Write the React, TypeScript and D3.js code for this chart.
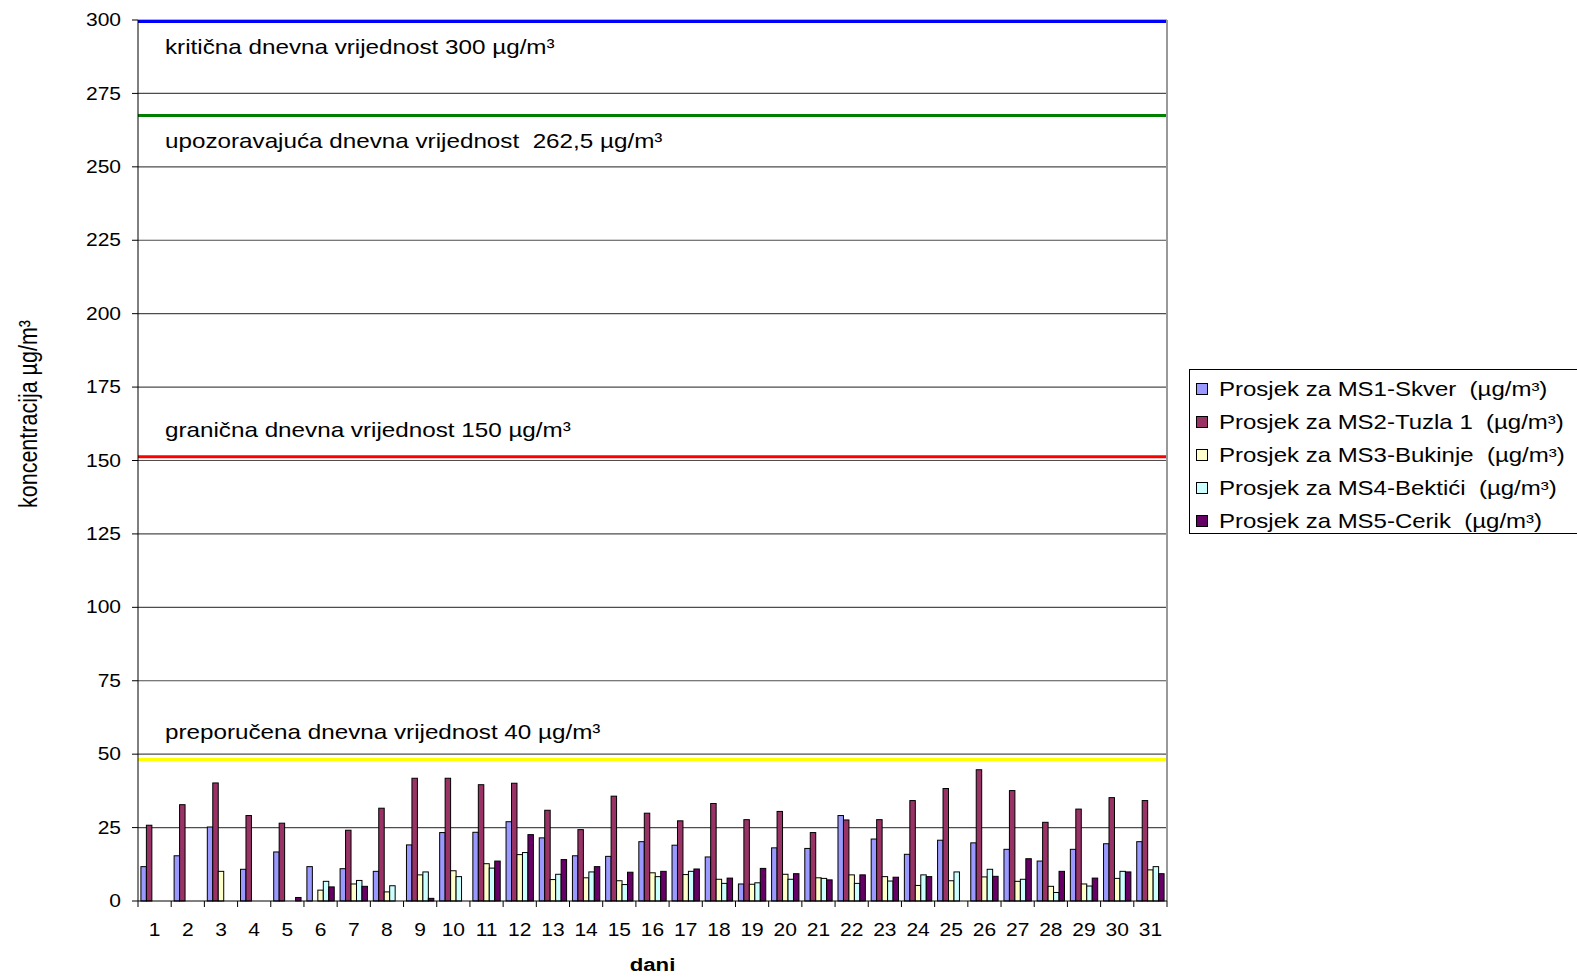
import React from 'react';
import * as d3 from 'd3';

// dnevni prosjeci po mjernim stanicama (µg/m³), null = nema podatka
const days = ['1', '2', '3', '4', '5', '6', '7', '8', '9', '10', '11', '12', '13', '14', '15', '16',
  '17', '18', '19', '20', '21', '22', '23', '24', '25', '26', '27', '28', '29', '30', '31'];

const ms1 = [11.7, 15.4, 25.2, 10.8, 16.7, 11.7, 11.0, 10.1, 19.1, 23.3, 23.4, 27.0, 21.5, 15.4, 15.2, 20.2,
  19.0, 15.0, 5.8, 18.1, 17.9, 29.1, 21.1, 15.9, 20.7, 19.8, 17.6, 13.6, 17.6, 19.5, 20.2];
const ms2 = [25.8, 32.8, 40.2, 29.1, 26.5, null, 24.1, 31.6, 41.8, 41.8, 39.6, 40.1, 30.9, 24.3, 35.7, 29.9,
  27.3, 33.2, 27.7, 30.5, 23.3, 27.6, 27.7, 34.2, 38.3, 44.7, 37.6, 26.8, 31.3, 35.2, 34.2];
const ms3 = [null, null, 10.1, null, null, 3.7, 5.8, 3.1, 8.9, 10.3, 12.7, 15.8, 7.3, 7.9, 6.9, 9.6,
  9.0, 7.4, 5.7, 9.1, 7.9, 8.9, 8.3, 5.3, 6.9, 8.2, 6.7, 5.0, 5.8, 7.7, 10.6];
const ms4 = [null, null, null, null, null, 6.7, 7.0, 5.2, 9.9, 8.3, 11.2, 16.5, 9.1, 9.9, 5.6, 8.3,
  10.1, 6.0, 6.2, 7.4, 7.7, 6.0, 6.8, 8.9, 9.9, 10.8, 7.4, 2.9, 5.1, 10.1, 11.7];
const ms5 = [null, null, null, null, 1.2, 4.8, 5.0, null, 0.9, null, 13.6, 22.6, 14.1, 11.7, 9.8, 10.1,
  10.9, 7.8, 11.1, 9.3, 7.2, 8.9, 8.1, 8.3, null, 8.4, 14.4, 10.1, 7.8, 9.9, 9.3];

const seriesNames = [
  'Prosjek za MS1-Skver  (µg/m³)',
  'Prosjek za MS2-Tuzla 1  (µg/m³)',
  'Prosjek za MS3-Bukinje  (µg/m³)',
  'Prosjek za MS4-Bektići  (µg/m³)',
  'Prosjek za MS5-Cerik  (µg/m³)',
];
const seriesColors = ['#9999FF', '#993366', '#FFFFCC', '#CCFFFF', '#660066'];
const seriesValues = [ms1, ms2, ms3, ms4, ms5];

// granične linije kako su nacrtane na grafikonu
const limitValues = [299.5, 267.5, 151.3, 48.2];
const limitColors = ['#0000FF', '#008000', '#FF0000', '#FFFF00'];
const limitLabels = [
  'kritična dnevna vrijednost 300 µg/m³',
  'upozoravajuća dnevna vrijednost  262,5 µg/m³',
  'granična dnevna vrijednost 150 µg/m³',
  'preporučena dnevna vrijednost 40 µg/m³',
];
const limitLabelBelow = [true, true, false, false];

const yTicks = [0, 25, 50, 75, 100, 125, 150, 175, 200, 225, 250, 275, 300];

const FONT = '"Liberation Sans", Arial, sans-serif';
// original slika je vodoravno razvučena
const SX = 1.2;

export default function App() {
  const width = 1577;
  const height = 977;
  const plot = { left: 138, right: 1167, top: 20, bottom: 901 };

  const x = d3.scaleBand<string>().domain(days).range([plot.left, plot.right]).padding(0);
  const bw = x.bandwidth();
  const x1 = d3
    .scaleBand<number>()
    .domain(d3.range(seriesValues.length))
    .range([bw * 0.088, bw * (1 - 0.088)])
    .padding(0);
  const y = d3.scaleLinear().domain([0, 300]).range([plot.bottom, plot.top]);

  return (
    <svg
      width={width}
      height={height}
      style={{ position: 'absolute', left: 0, top: 0, fontFamily: FONT }}
    >
      <rect x={0} y={0} width={width} height={height} fill="#fff" />

      {/* mreža */}
      {yTicks.filter((t) => t > 0 && t < 300).map((t) => (
        <line key={t} x1={plot.left} x2={plot.right} y1={y(t)} y2={y(t)} stroke="#4d4d4d" strokeWidth={1.2} />
      ))}
      <line x1={plot.left} x2={plot.right} y1={y(300)} y2={y(300)} stroke="#999" strokeWidth={1.5} />
      <line x1={plot.right} x2={plot.right} y1={plot.top} y2={plot.bottom} stroke="#999" strokeWidth={2} />

      {/* granične vrijednosti */}
      {limitValues.map((v, i) => (
        <g key={i}>
          <line
            x1={plot.left}
            x2={plot.right - 1}
            y1={y(v)}
            y2={y(v)}
            stroke={limitColors[i]}
            strokeWidth={3}
          />
          <text
            transform={`translate(${plot.left + 27}, ${limitLabelBelow[i] ? y(v) + 33 : y(v) - 20}) scale(${SX},1)`}
            fontSize={20.2}
            fill="#000"
            style={{ whiteSpace: 'pre' }}
          >
            {limitLabels[i]}
          </text>
        </g>
      ))}

      {/* stupci */}
      {seriesValues.map((vals, s) => (
        <g key={s}>
          {vals.map((v, i) =>
            v == null ? null : (
              <rect
                key={i}
                x={(x(days[i]) as number) + (x1(s) as number)}
                y={y(v)}
                width={x1.bandwidth()}
                height={y(0) - y(v)}
                fill={seriesColors[s]}
                stroke="#000"
                strokeWidth={1}
              />
            )
          )}
        </g>
      ))}

      {/* os Y */}
      <line x1={plot.left} x2={plot.left} y1={plot.top} y2={plot.bottom} stroke="#000" strokeWidth={1} />
      {yTicks.map((t) => (
        <g key={t}>
          <line x1={plot.left - 6} x2={plot.left} y1={y(t)} y2={y(t)} stroke="#000" />
          <text
            transform={`translate(${plot.left - 17}, ${y(t)}) scale(${SX},1)`}
            dy="0.35em"
            textAnchor="end"
            fontSize={17.5}
          >
            {t}
          </text>
        </g>
      ))}

      {/* os X */}
      <line x1={plot.left} x2={plot.right} y1={plot.bottom} y2={plot.bottom} stroke="#000" strokeWidth={1} />
      {days.map((d) => (
        <g key={d}>
          <line
            x1={x(d) as number}
            x2={x(d) as number}
            y1={plot.bottom}
            y2={plot.bottom + 6}
            stroke="#000"
          />
          <text
            transform={`translate(${(x(d) as number) + bw / 2}, 930) scale(${SX},1)`}
            dy="0.35em"
            textAnchor="middle"
            fontSize={17.5}
          >
            {d}
          </text>
        </g>
      ))}
      <line x1={plot.right} x2={plot.right} y1={plot.bottom} y2={plot.bottom + 6} stroke="#000" />

      <text
        transform={`translate(${(plot.left + plot.right) / 2}, 965) scale(${SX},1)`}
        dy="0.35em"
        textAnchor="middle"
        fontSize={18.5}
        fontWeight="bold"
      >
        dani
      </text>
      <text
        transform={`translate(28, 414) rotate(-90) scale(1,${SX})`}
        textAnchor="middle"
        dy="0.35em"
        fontSize={21.5}
      >
        koncentracija µg/m³
      </text>

      {/* legenda */}
      <rect x={1189.5} y={369.5} width={400} height={164} fill="#fff" stroke="#000" strokeWidth={1} />
      {seriesNames.map((n, i) => (
        <g key={n} transform={`translate(1196, ${389 + i * 33})`}>
          <rect x={0.5} y={-5.5} width={11} height={11} fill={seriesColors[i]} stroke="#000" strokeWidth={1} />
          <text
            transform={`translate(23, 0) scale(${SX},1)`}
            dy="0.35em"
            fontSize={20}
            style={{ whiteSpace: 'pre' }}
          >
            {n}
          </text>
        </g>
      ))}
    </svg>
  );
}
